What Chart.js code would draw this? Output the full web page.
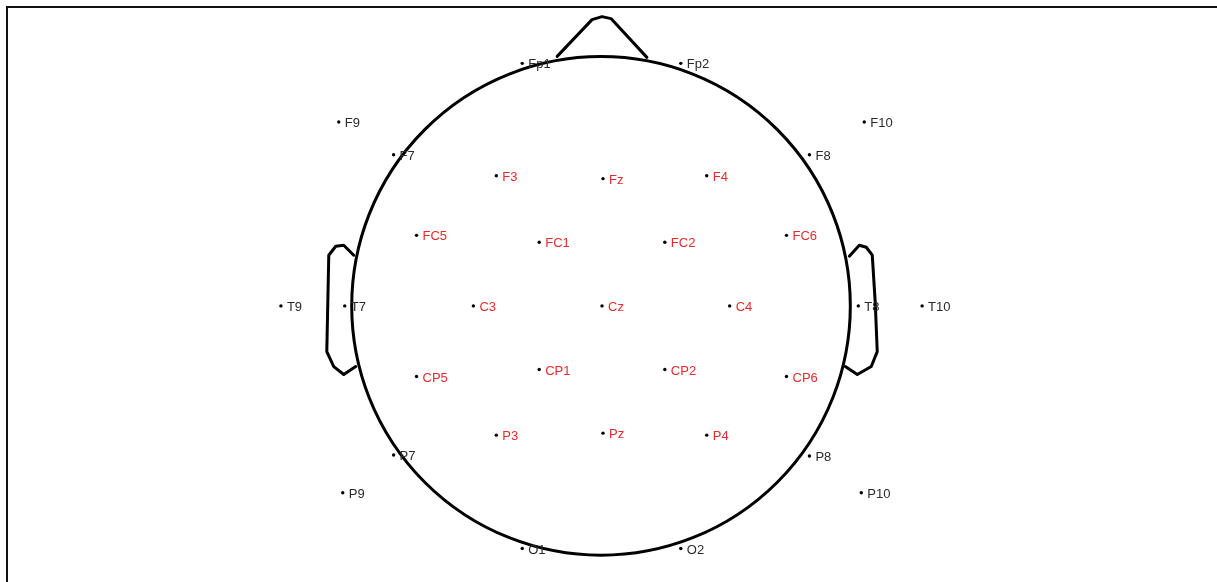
<!DOCTYPE html>
<html>
<head>
<meta charset="utf-8">
<script src="https://cdn.jsdelivr.net/npm/chart.js@4.4.0/dist/chart.umd.min.js"></script>
<style>
  html, body { margin: 0; padding: 0; background: #fff; }
  #wrap { position: relative; width: 1217px; height: 582px; overflow: hidden; }
  #frame { position: absolute; left: 6px; top: 6px; right: -10px; bottom: -10px;
           border-top: 2px solid #111; border-left: 2px solid #111; pointer-events: none; }
</style>
</head>
<body>
<div id="wrap">
  <canvas id="c" width="1217" height="582"></canvas>
  <div id="frame"></div>
</div>
<script>
// Electrode names and positions (head radius = 1, centre = 0,0)
const electrodes = ['Fp1','Fp2','F9','F10','F7','F8','F3','Fz','F4','FC5','FC1','FC2','FC6',
  'T9','T7','C3','Cz','C4','T8','T10','CP5','CP1','CP2','CP6','P3','Pz','P4','P7','P8','P9','P10','O1','O2'];
const xPos = [-0.316,0.320,-1.052,1.056,-0.832,0.836,-0.420,0.008,0.424,-0.740,-0.248,0.256,0.744,
  -1.284,-1.028,-0.512,0.004,0.516,1.032,1.288,-0.740,-0.248,0.256,0.744,-0.420,0.008,0.424,-0.832,0.836,-1.036,1.044,-0.316,0.320];
const yPos = [0.976,0.976,0.740,0.740,0.608,0.608,0.524,0.512,0.524,0.284,0.256,0.256,0.284,
  0,0,0,0,0,0,0,-0.284,-0.256,-0.256,-0.284,-0.520,-0.512,-0.520,-0.600,-0.604,-0.752,-0.752,-0.976,-0.976];
const highlighted = ['F3','Fz','F4','FC5','FC1','FC2','FC6','C3','Cz','C4','CP5','CP1','CP2','CP6','P3','Pz','P4'];

// Head outline shapes (same units)
const headRadius = 1;
const noseX = [-0.176,-0.036,0.004,0.040,0.184];
const noseY = [1.004,1.152,1.164,1.156,1.000];
const leftEarX = [-0.992,-1.032,-1.064,-1.092,-1.096,-1.100,-1.072,-1.032,-0.984];
const leftEarY = [0.204,0.244,0.240,0.204,0.010,-0.184,-0.244,-0.276,-0.244];
const rightEarX = [0.996,1.036,1.064,1.088,1.100,1.108,1.084,1.028,0.980];
const rightEarY = [0.200,0.244,0.236,0.204,0.012,-0.184,-0.244,-0.276,-0.244];

const RED = 'rgb(232,42,46)';
const DARK = '#2a2a2a';

const headPlugin = {
  id: 'head',
  afterDatasetsDraw(chart) {
    const {ctx, scales: {x, y}} = chart;
    ctx.save();
    ctx.strokeStyle = '#000';
    ctx.lineWidth = 3;
    ctx.lineJoin = 'round';
    ctx.lineCap = 'round';
    const cx = x.getPixelForValue(0), cy = y.getPixelForValue(0);
    const r = x.getPixelForValue(headRadius) - cx;
    ctx.beginPath();
    ctx.arc(cx, cy, r, 0, Math.PI * 2);
    ctx.stroke();
    const poly = (xs, ys) => {
      ctx.beginPath();
      xs.forEach((v, i) => {
        const px = x.getPixelForValue(v), py = y.getPixelForValue(ys[i]);
        if (i === 0) ctx.moveTo(px, py); else ctx.lineTo(px, py);
      });
      ctx.stroke();
    };
    poly(noseX, noseY);
    poly(leftEarX, leftEarY);
    poly(rightEarX, rightEarY);

    // labels
    ctx.font = '13px "Liberation Sans", Arial, sans-serif';
    ctx.textBaseline = 'middle';
    ctx.textAlign = 'left';
    const meta = chart.getDatasetMeta(0);
    meta.data.forEach((pt, i) => {
      const name = electrodes[i];
      ctx.fillStyle = highlighted.includes(name) ? RED : DARK;
      ctx.fillText(name, pt.x + 6, pt.y + 1.5);
    });
    ctx.restore();
  }
};

new Chart(document.getElementById('c'), {
  type: 'scatter',
  data: {
    datasets: [{
      data: electrodes.map((n, i) => ({x: xPos[i], y: yPos[i]})),
      pointRadius: 1.7,
      pointBackgroundColor: '#000',
      pointBorderWidth: 0,
      pointHoverRadius: 1.7
    }]
  },
  options: {
    responsive: false,
    animation: false,
    layout: { padding: 0 },
    plugins: { legend: { display: false }, tooltip: { enabled: false } },
    scales: {
      x: { type: 'linear', display: false, min: -2.404, max: 2.464 },
      y: { type: 'linear', display: false, min: -1.104, max: 1.224 }
    }
  },
  plugins: [headPlugin]
});
</script>
</body>
</html>
